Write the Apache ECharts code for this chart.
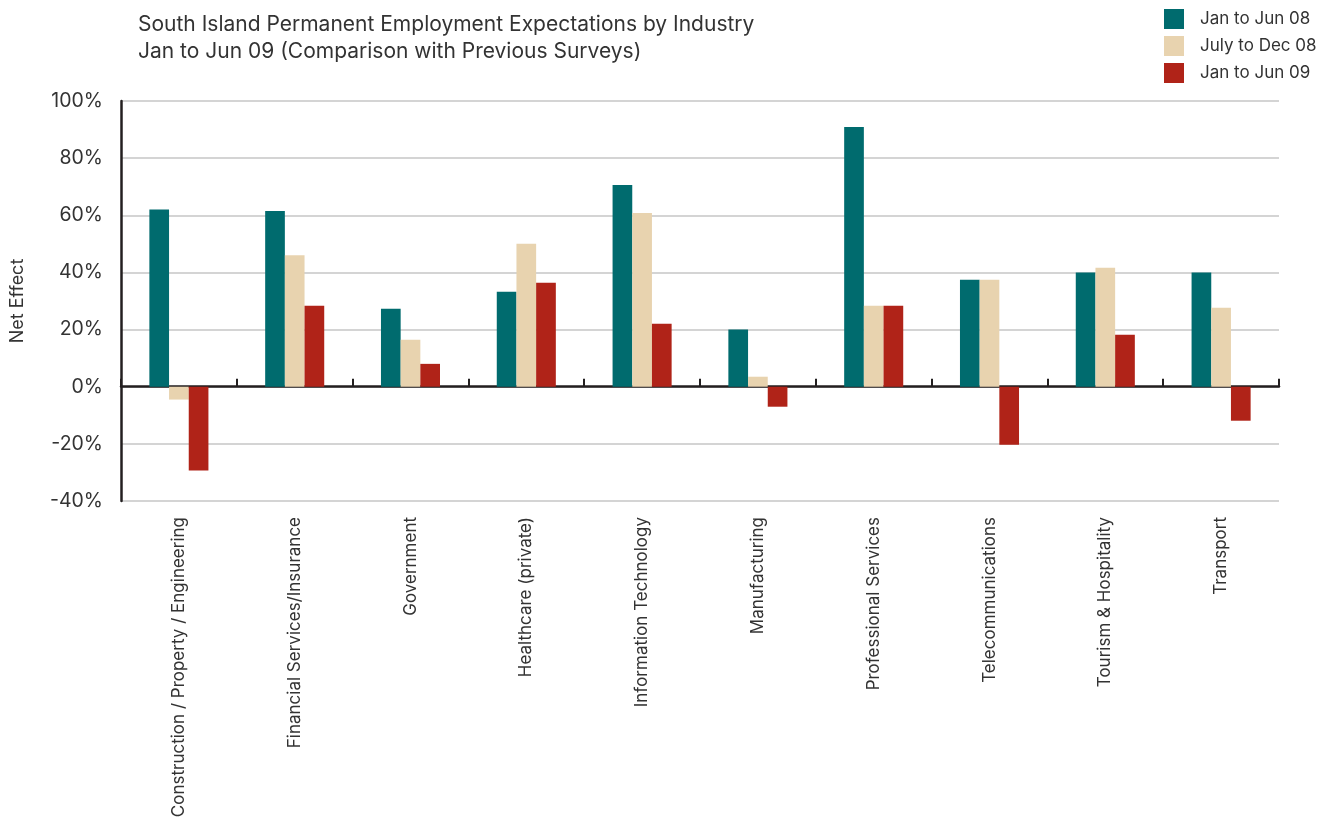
<!DOCTYPE html>
<html>
<head>
<meta charset="utf-8">
<script src="https://cdn.jsdelivr.net/npm/echarts@6/dist/echarts.min.js"></script>
<style>
  html, body { margin: 0; padding: 0; background: #fff; }
  #chart { width: 1333px; height: 823px; }
</style>
</head>
<body>
<div id="chart"></div>
<script>
var industries = [
  'Construction / Property / Engineering',
  'Financial Services/Insurance',
  'Government',
  'Healthcare (private)',
  'Information Technology',
  'Manufacturing',
  'Professional Services',
  'Telecommunications',
  'Tourism & Hospitality',
  'Transport'
];
var seriesNames = ['Jan to Jun 08', 'July to Dec 08', 'Jan to Jun 09'];
var janJun08 = [62, 61.5, 27.3, 33.2, 70.6, 20, 90.9, 37.4, 40, 40];
var julDec08 = [-4.5, 46, 16.4, 50, 60.8, 3.5, 28.3, 37.4, 41.6, 27.6];
var janJun09 = [-29.3, 28.3, 8, 36.4, 22, -7, 28.3, -20.3, 18.2, -11.9];
var colors = ['#006b6e', '#e8d3af', '#b02318'];

var chart = echarts.init(document.getElementById('chart'));
var font = 'Inter, Liberation Sans, Arial, sans-serif';

function bar(name, data, color) {
  return {
    name: name,
    type: 'bar',
    data: data,
    barGap: 0,
    barCategoryGap: '49%',
    itemStyle: { color: color },
    emphasis: { disabled: true }
  };
}

var option = {
  animation: false,
  textStyle: { fontFamily: font },
  title: {
    text: 'South Island Permanent Employment Expectations by Industry\nJan to Jun 09 (Comparison with Previous Surveys)',
    left: 133,
    top: 6,
    textStyle: { fontSize: 21, fontWeight: 'normal', color: '#333', lineHeight: 27, fontFamily: font }
  },
  legend: {
    orient: 'vertical',
    left: 1164,
    top: 9,
    itemWidth: 20,
    itemHeight: 20,
    itemGap: 7,
    icon: 'rect',
    padding: 0,
    textStyle: { fontSize: 17, color: '#333', padding: [0, 0, 0, 11], fontFamily: font },
    data: seriesNames
  },
  grid: { left: 121, right: 54, top: 101, bottom: 322, containLabel: false, outerBoundsMode: 'none' },
  xAxis: {
    type: 'category',
    data: industries,
    axisLine: { onZero: true, lineStyle: { color: '#231f20', width: 2.5 } },
    axisTick: { show: true, inside: true, length: 8, lineStyle: { color: '#231f20', width: 2 } },
    axisLabel: {
      rotate: 90,
      margin: 16,
      interval: 0,
      fontSize: 17,
      color: '#333',
      fontFamily: font
    }
  },
  yAxis: {
    type: 'value',
    min: -40,
    max: 100,
    interval: 20,
    name: 'Net Effect',
    nameLocation: 'middle',
    nameGap: 94,
    nameRotate: 90,
    nameTextStyle: { fontSize: 18, color: '#333', fontFamily: font },
    axisLine: { show: true, lineStyle: { color: '#231f20', width: 2.5 } },
    axisTick: { show: false },
    axisLabel: { formatter: '{value}%', fontSize: 19.5, color: '#333', margin: 18, fontFamily: font },
    splitLine: { show: true, lineStyle: { color: '#d4d4d4', width: 2 } }
  },
  series: [
    bar(seriesNames[0], janJun08, colors[0]),
    bar(seriesNames[1], julDec08, colors[1]),
    bar(seriesNames[2], janJun09, colors[2])
  ]
};

chart.setOption(option);
</script>
</body>
</html>
